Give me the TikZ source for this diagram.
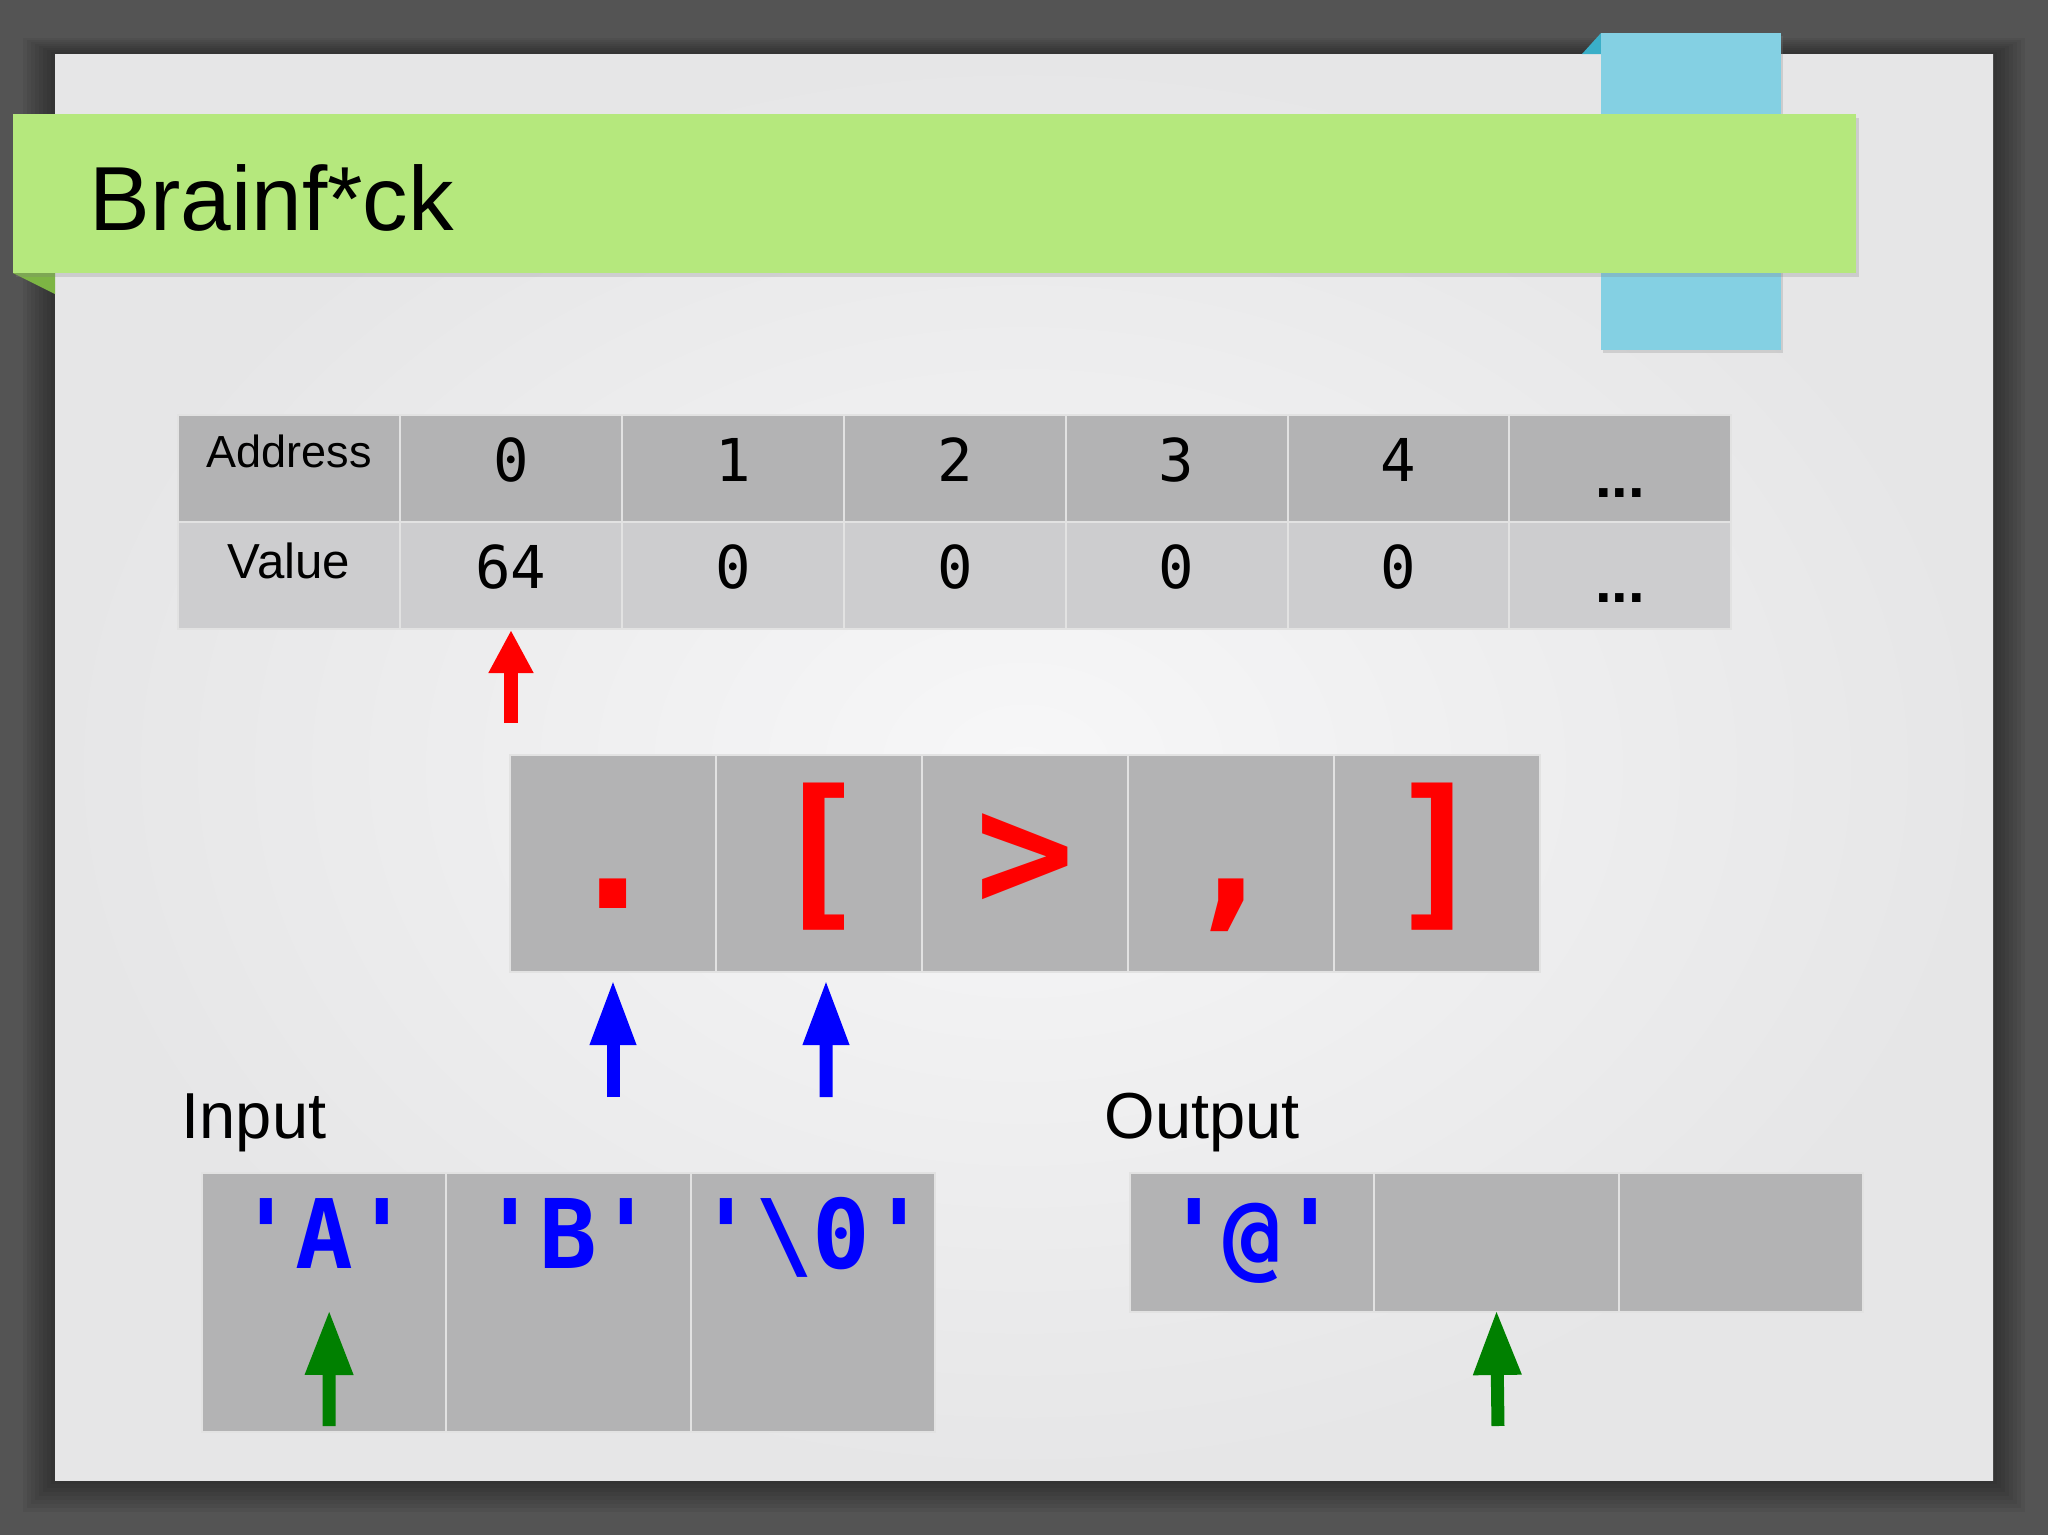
\documentclass[tikz,border=0pt]{standalone}
\usepackage{fontspec}
\setmainfont{Liberation Sans}
\setmonofont{DejaVu Sans Mono}
\usetikzlibrary{positioning,arrows.meta,shadows}

\definecolor{bgdark}{HTML}{545454}
\definecolor{slidein}{HTML}{F7F7F8}
\definecolor{slideout}{HTML}{E6E6E7}
\definecolor{bandgreen}{HTML}{B5E87D}
\definecolor{bandfold}{HTML}{7DB544}
\definecolor{ribbonblue}{HTML}{84D0E3}
\definecolor{ribbonfold}{HTML}{3AAFC8}
\definecolor{hdrgray}{HTML}{B3B3B4}
\definecolor{valgray}{HTML}{CDCDCF}
\definecolor{cellline}{HTML}{E2E2E2}
\definecolor{ptrgreen}{HTML}{008000}

\tikzset{
  hdrcell/.style={rectangle, fill=hdrgray, draw=cellline, line width=0.6pt,
    minimum width=2.219cm, minimum height=1.07cm, inner sep=0pt, outer sep=0pt},
  valcell/.style={hdrcell, fill=valgray},
  codecell/.style={hdrcell, minimum width=2.06cm, minimum height=2.17cm},
  incell/.style={hdrcell, minimum width=2.443cm, minimum height=2.59cm},
  outcell/.style={incell, minimum height=1.39cm},
  labtext/.style={font=\fontsize{12.8pt}{15pt}\selectfont, anchor=base, inner sep=0pt},
  numtext/.style={font=\ttfamily\fontsize{16.8pt}{20pt}\selectfont, anchor=base, inner sep=0pt},
  dottext/.style={font=\bfseries\fontsize{17pt}{20pt}\selectfont, anchor=base, inner sep=0pt},
  codetext/.style={font=\ttfamily\bfseries\fontsize{47pt}{50pt}\selectfont, text=red, anchor=base, inner sep=0pt},
  iotext/.style={font=\ttfamily\bfseries\fontsize{27.3pt}{30pt}\selectfont, text=blue, anchor=base, inner sep=0pt},
  headtext/.style={font=\fontsize{18.5pt}{22pt}\selectfont, anchor=base west, inner sep=0pt},
  redptr/.style={red, line width=0.14cm, -{Triangle[length=0.43cm,width=0.42cm]}},
  blueptr/.style={blue, line width=0.13cm, -{Triangle[length=0.65cm,width=0.43cm]}},
  greenptr/.style={ptrgreen, line width=0.13cm, -{Triangle[length=0.65cm,width=0.45cm]}},
}

\begin{document}
\begin{tikzpicture}
\useasboundingbox (0,0) rectangle (20.48,-15.35);
% page and slide
\fill[bgdark] (0,0) rectangle (20.48,-15.35);
\foreach \s in {1,...,8}
  \fill[black, opacity=0.05] ({0.55-0.04*\s},{-0.54+0.02*\s}) rectangle ({19.93+0.04*\s},{-14.80-0.04*\s});
\fill[inner color=slidein, outer color=slideout] (0.55,-0.54) rectangle (19.93,-14.80);

% ribbon and title band
\fill[ribbonfold] (15.82,-0.54) -- (16.01,-0.33) -- (16.01,-0.54) -- cycle;
\fill[ribbonblue, drop shadow={shadow xshift=0.02cm, shadow yshift=-0.03cm, opacity=0.25}]
  (16.01,-0.33) rectangle (17.81,-3.50);
\fill[bandfold] (0.13,-2.73) -- (0.55,-2.73) -- (0.55,-2.94) -- cycle;
\fill[bandgreen, drop shadow={shadow xshift=0.03cm, shadow yshift=-0.04cm, opacity=0.25}]
  (0.13,-1.14) rectangle (18.56,-2.73);
\node[font=\fontsize{25.9pt}{30pt}\selectfont, anchor=base west, inner sep=0pt] (title) at (0.89,-2.30) {Brainf*ck};

% memory table
\node[hdrcell] (a) at (2.89,-4.685) {};
\node[valcell, below=0pt of a] (v) {};
\node[labtext] (at) at ([yshift=-0.52cm]a.north) {Address};
\node[labtext, font=\fontsize{14pt}{16pt}\selectfont] (vt) at ([yshift=-0.56cm]v.north) {Value};
\foreach \i/\n in {0/64,1/0,2/0,3/0,4/0} {
  \node[hdrcell] (a\i) at ({5.11+2.219*\i},-4.685) {};
  \node[valcell, below=0pt of a\i] (v\i) {};
  \node[numtext] (at\i) at ([yshift=-0.66cm]a\i.north) {\i};
  \node[numtext] (vt\i) at ([yshift=-0.66cm]v\i.north) {\n};
}
\node[hdrcell] (a5) at (16.20,-4.685) {};
\node[valcell, below=0pt of a5] (v5) {};
\node[dottext] (at5) at ([yshift=-0.82cm]a5.north) {...};
\node[dottext] (vt5) at ([yshift=-0.80cm]v5.north) {...};

% program
\foreach \i/\c in {0/{.},1/{[},2/{>},3/{,},4/{]}} {
  \node[codecell] (c\i) at ({6.13+2.06*\i},-8.635) {};
  \node[codetext] (ct\i) at ([yshift=-1.53cm]c\i.north) {\c};
}

% input and output
\node[headtext] (inlab) at (1.81,-11.38) {Input};
\node[headtext] (outlab) at (11.04,-11.38) {Output};
\foreach \i/\t in {0/{'A'},1/{'B'},2/{'\textbackslash0'}} {
  \node[incell] (in\i) at ({3.242+2.443*\i},-13.025) {};
  \node[iotext] (it\i) at ([yshift=-0.95cm]in\i.north) {\t};
}
\foreach \i in {0,1,2}
  \node[outcell] (out\i) at ({12.522+2.443*\i},-12.425) {};
\node[iotext] (ot0) at ([yshift=-0.95cm]out0.north) {'@'};

% pointers
\coordinate (rtail) at (5.11,-7.23);
\draw[redptr] (rtail) -- ([yshift=-0.01cm]v0.south);
\coordinate (btail0) at (6.13,-10.97);
\draw[blueptr] (btail0) -- ([yshift=-0.08cm]c0.south);
\coordinate (btail1) at (8.26,-10.97);
\draw[blueptr] (btail1) -- ([xshift=0.07cm,yshift=-0.08cm]c1.south);
\coordinate (gtail0) at (3.29,-14.26);
\draw[greenptr] (gtail0) -- ([xshift=0.05cm,yshift=1.22cm]in0.south);
\coordinate (gtail1) at (14.98,-14.26);
\draw[greenptr] (gtail1) -- ([yshift=0.02cm]out1.south);
\end{tikzpicture}
\end{document}
